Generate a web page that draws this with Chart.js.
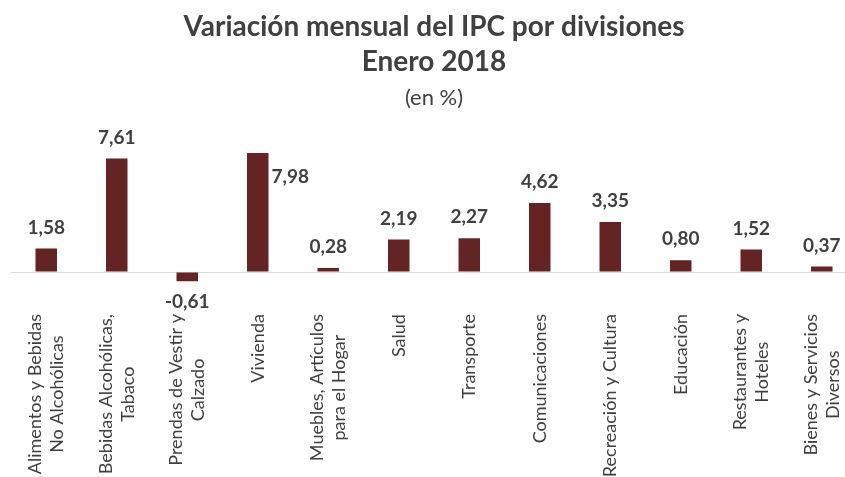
<!DOCTYPE html>
<html>
<head>
<meta charset="utf-8">
<script src="https://cdn.jsdelivr.net/npm/chart.js@4"></script>
<style>
html, body { margin: 0; padding: 0; background: #fff; overflow: hidden; width: 845px; height: 477px; }
#wrap { width: 870px; height: 477px; margin-left: -13px; }
</style>
</head>
<body>
<div id="wrap"><canvas id="chart"></canvas></div>
<script>
// divisiones del IPC (cada una partida en lineas como en la grafica)
let categories = [
    ["Alimentos y Bebidas", "No Alcohólicas"],
    ["Bebidas Alcohólicas,", "Tabaco"],
    ["Prendas de Vestir y", "Calzado"],
    ["Vivienda"],
    ["Muebles, Artículos", "para el Hogar"],
    ["Salud"],
    ["Transporte"],
    ["Comunicaciones"],
    ["Recreación y Cultura"],
    ["Educación"],
    ["Restaurantes y", "Hoteles"],
    ["Bienes y Servicios", "Diversos"]
];

// variacion mensual en %, enero 2018
let values = [1.58, 7.61, -0.61, 7.98, 0.28, 2.19, 2.27, 4.62, 3.35, 0.80, 1.52, 0.37];

let titleLines = ["Variación mensual del IPC por divisiones", "Enero 2018"];
let subtitle = "(en %)";

const FONT = "Lato, 'Open Sans', sans-serif";
const TEXT = "#404040";
const BAR = "#632423";

function fmt(v)
{
    return v.toFixed(2).replace(".", ",");
}

// etiquetas de valor sobre / bajo cada barra
let valueLabelPlugin = {
    id: "valueLabels",
    afterDatasetsDraw(chart)
    {
        let ctx = chart.ctx;
        let meta = chart.getDatasetMeta(0);
        ctx.save();
        ctx.font = "bold 19px " + FONT;
        ctx.fillStyle = TEXT;
        ctx.textBaseline = "middle";
        meta.data.forEach(function(bar, i)
        {
            let v = values[i];
            if (i == 3) {
                // Excel dejo esta etiqueta a la derecha de la barra
                ctx.textAlign = "left";
                ctx.fillText(fmt(v), bar.x + bar.width / 2 + 3, bar.y + 24);
            } else if (v < 0) {
                ctx.textAlign = "center";
                ctx.fillText(fmt(v), bar.x, bar.base + Math.abs(bar.base - bar.y) + 21);
            } else {
                ctx.textAlign = "center";
                ctx.fillText(fmt(v), bar.x, bar.y - 21);
            }
        });
        ctx.restore();
    }
};

// etiquetas del eje x giradas, lineas centradas entre si
let categoryLabelPlugin = {
    id: "categoryLabels",
    afterDraw(chart)
    {
        let ctx = chart.ctx;
        let xs = chart.scales.x;
        let top = chart.scales.y.getPixelForValue(0) + 42;
        ctx.save();
        ctx.font = "18px " + FONT;
        ctx.fillStyle = TEXT;
        ctx.textAlign = "center";
        ctx.textBaseline = "middle";
        for (let i = 0; i < categories.length; i++)
        {
            let lines = categories[i];
            let maxW = 0;
            lines.forEach(function(l) { maxW = Math.max(maxW, ctx.measureText(l).width); });
            let x = xs.getPixelForValue(i);
            let cy = top + maxW / 2;
            for (let k = 0; k < lines.length; k++)
            {
                let off = (k - (lines.length - 1) / 2) * 22;
                ctx.save();
                ctx.translate(x + off, cy);
                ctx.rotate(-Math.PI / 2);
                ctx.fillText(lines[k], 0, 0);
                ctx.restore();
            }
        }
        ctx.restore();
    }
};

let myChart = document.getElementById("chart").getContext("2d");
let display = new Chart(myChart,
{
    type: "bar",
    data:
    {
        labels: categories.map(function(c) { return c.join(" "); }),
        datasets: [
            {
                data: values,
                backgroundColor: BAR,
                borderWidth: 0,
                categoryPercentage: 1,
                barPercentage: 0.305
            }
        ]
    },
    options:
    {
        responsive: true,
        maintainAspectRatio: false,
        animation: false,
        events: [],
        layout: { padding: { left: 24, right: 0, top: 0, bottom: 190 } },
        plugins:
        {
            legend: { display: false },
            tooltip: { enabled: false },
            title:
            {
                display: true,
                text: titleLines,
                color: TEXT,
                font: { family: FONT, size: 28, weight: "bold", lineHeight: 1.25 },
                padding: { top: 9, bottom: 7 }
            },
            subtitle:
            {
                display: true,
                text: subtitle,
                color: TEXT,
                font: { family: FONT, size: 22, weight: "normal", lineHeight: 1.1 },
                padding: { top: 0, bottom: 35 }
            }
        },
        scales:
        {
            x: { display: false },
            y:
            {
                min: -1,
                max: 8.5,
                ticks: { display: false, stepSize: 1 },
                border: { display: false },
                grid:
                {
                    drawTicks: false,
                    lineWidth: 1,
                    color: function(c) { return c.tick && c.tick.value === 0 ? "#d9d9d9" : "rgba(0,0,0,0)"; }
                }
            }
        }
    },
    plugins: [valueLabelPlugin, categoryLabelPlugin]
});
</script>
</body>
</html>
